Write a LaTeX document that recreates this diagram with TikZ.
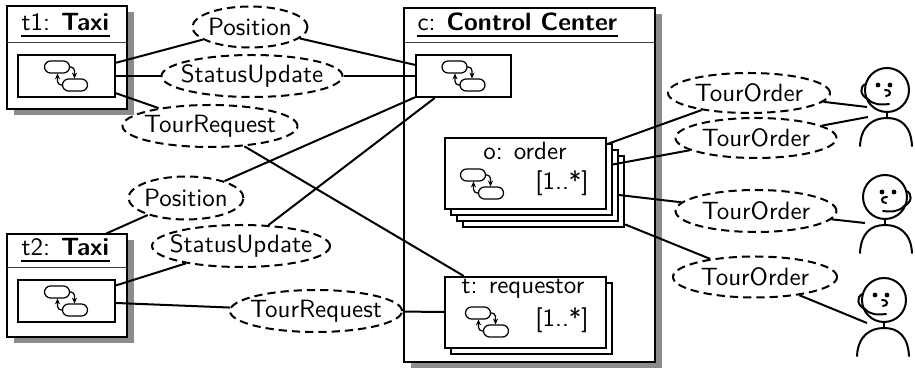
\documentclass[tikz,border=0pt]{standalone}
\usepackage{fontspec}
\usetikzlibrary{shapes.geometric,shadows,fit,arrows.meta}
\begin{document}
\begin{tikzpicture}[x=0.4pt,y=-0.4pt,
  every node/.style={font=\sffamily\fontsize{10}{12}\selectfont},
  frame/.style={draw, line width=1.1pt, fill=white, inner sep=0pt,
    drop shadow={shadow xshift=2.6pt, shadow yshift=-2.6pt, fill=black, opacity=0.45}},
  part/.style={draw, line width=0.85pt, fill=white, inner sep=0pt},
  area/.style={inner sep=0pt},
  sepline/.style={line width=0.4pt, black!75},
  uline/.style={line width=0.8pt},
  link/.style={line width=0.8pt},
  msg/.style 2 args={ellipse, draw, dash pattern=on 3.3pt off 2pt, line width=0.8pt,
    inner sep=0pt, minimum width=#1*0.4pt, minimum height=#2*0.4pt},
  statechart/.pic={
    \draw[line width=0.5pt, rounded corners=2.4pt] (-21.5,-15) rectangle (3.5,-3);
    \draw[line width=0.5pt, rounded corners=2.4pt] (-3.5,3) rectangle (21.5,15);
    \draw[line width=0.5pt, rounded corners=1.5pt, -{Stealth[length=2.4pt,width=2pt]}] (3.5,-9) -| (8.5,2.6);
    \draw[line width=0.5pt, rounded corners=1.5pt, -{Stealth[length=2.4pt,width=2pt]}] (-3.5,9) -| (-8.5,-2.6);
  },
  person/.pic={
    \begin{scope}[line width=0.8pt, line cap=round]
    \draw (0,0) circle [radius=22];
    \draw (0,22) -- (0,28);
    \draw (-27,56) .. controls (-26,36) and (-14,28) .. (0,28)
                   .. controls (14,28) and (24,36) .. (25,56);
    \fill (-9,-5) circle [radius=2.4];
    \fill (3,-5) circle [radius=2.4];
    \draw (-2,0) .. controls (4,-1) and (5,6) .. (-1,6);
    \draw (-21,-6) .. controls (-28,-4) and (-27,6) .. (-19,9);
    \draw (-19,9) .. controls (-14,15) and (-6,15) .. (2,14);
    \end{scope}
  }
]
\useasboundingbox (0,0) rectangle (915,372);

% ---- taxi t1
\node[frame, fit={(7,6) (127,109)}] (t1) {};
\node[area, fit={(7,6) (127,43)}] (t1head) {};
\draw[sepline] (7,43) -- (127,43);
\node[anchor=base west, inner sep=0pt] (t1name) at (21,30.5) {t1: \textbf{Taxi}};
\draw[uline] ([yshift=-2.4pt]t1name.base west) -- ([yshift=-2.4pt]t1name.base east);
\node[part, fit={(18,55) (115,97)}] (t1in) {};
\pic at (66,76) {statechart};

% ---- taxi t2
\node[frame, fit={(7,234) (127,337)}] (t2) {};
\node[area, fit={(7,234) (127,268)}] (t2head) {};
\draw[sepline] (7,268) -- (127,268);
\node[anchor=base west, inner sep=0pt] (t2name) at (21,255.5) {t2: \textbf{Taxi}};
\draw[uline] ([yshift=-2.4pt]t2name.base west) -- ([yshift=-2.4pt]t2name.base east);
\node[part, fit={(18,280) (115,322)}] (t2in) {};
\pic at (66,301) {statechart};

% ---- control center
\node[frame, fit={(404,8) (655,362)}] (cc) {};
\draw[sepline] (404,43) -- (655,43);
\node[anchor=base west, inner sep=0pt] (ccname) at (417,31) {c: \textbf{Control Center}};
\draw[uline] ([yshift=-2pt]ccname.base west) -- ([yshift=-2pt]ccname.base east);
\node[part, fit={(416,55) (511,97)}] (ccin) {};
\pic at (463.5,76) {statechart};

% order: stacked instances, back to front
\node[part, fit={(463,156) (624,227)}] (ord4) {};
\node[part, fit={(457,150) (618,221)}] (ord3) {};
\node[part, fit={(451,144) (612,215)}] (ord2) {};
\node[part, fit={(445,138) (606,209)}] (ord1) {};
\node (ordname) at (525,151) {o: order};
\node (ordmult) at (562,183) {[1..*]};
\pic at (482,184) {statechart};

% requestor: stacked instances
\node[part, fit={(451,283) (612,354)}] (req2) {};
\node[part, fit={(445,277) (606,348)}] (req) {};
\node (reqname) at (523,289) {t: requestor};
\node (reqmult) at (562,320) {[1..*]};
\pic at (487,322) {statechart};

% ---- messages
\node[msg={115}{41}] (pos1) at (250,27) {\makebox[0pt]{Position}};
\node[msg={181}{42}] (su1) at (252,76) {\makebox[0pt]{StatusUpdate}};
\node[msg={175}{42}] (tr1) at (210,126) {\makebox[0pt]{TourRequest}};
\node[msg={115}{43}] (pos2) at (186,198) {\makebox[0pt]{Position}};
\node[msg={178}{42}] (su2) at (241,246) {\makebox[0pt]{StatusUpdate}};
\node[msg={172}{42}] (tr2) at (316,311) {\makebox[0pt]{TourRequest}};
\node[msg={162}{40}] (to1) at (749,93) {\makebox[0pt]{TourOrder}};
\node[msg={161}{40}] (to2) at (756,138) {\makebox[0pt]{TourOrder}};
\node[msg={161}{42}] (to3) at (756,211) {\makebox[0pt]{TourOrder}};
\node[msg={164}{41}] (to4) at (755,277) {\makebox[0pt]{TourOrder}};

% ---- operators
\pic at (887,90) {person};
\pic[xscale=-1] at (885,197) {person};
\pic at (884,300) {person};
\coordinate (op1a) at (867,107);
\coordinate (op1b) at (868,117);
\coordinate (op2) at (865,223);
\coordinate (op3) at (867,323);

% ---- connectors
\draw[link] (t1in) -- (pos1);
\draw[link] (t1in) -- (su1);
\draw[link] (t1in) -- (tr1);
\draw[link] (pos1) -- (ccin);
\draw[link] (su1) -- (ccin);
\draw[link] (tr1) -- (req);
\draw[link] (pos2) -- (ccin);
\draw[link] (su2) -- (ccin);
\draw[link] (pos2) -- (t2head);
\draw[link] (su2) -- (t2in);
\draw[link] (t2in) -- (tr2);
\draw[link] (tr2) -- (req);
\draw[link] (ord1) -- (to1);
\draw[link] (ord2) -- (to2);
\draw[link] (ord3) -- (to3);
\draw[link] (ord4) -- (to4);
\draw[link] (to1) -- (op1a);
\draw[link] (to2) -- (op1b);
\draw[link] (to3) -- (op2);
\draw[link] (to4) -- (op3);
\end{tikzpicture}
\end{document}
